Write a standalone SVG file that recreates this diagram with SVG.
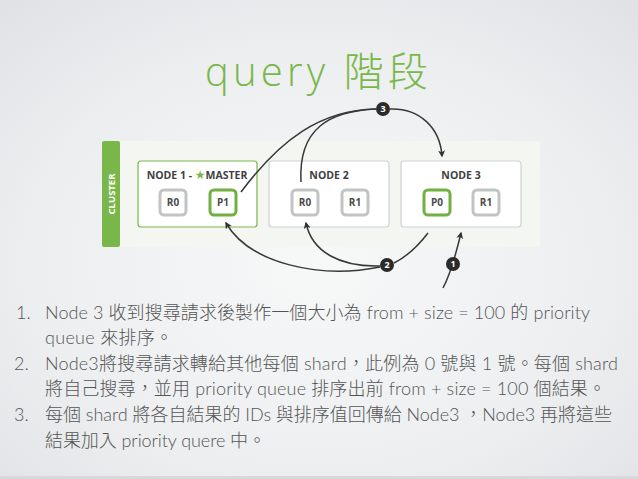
<svg xmlns="http://www.w3.org/2000/svg" width="638" height="479" viewBox="0 0 638 479">
<defs>
<radialGradient id="bg" cx="0.5" cy="0.55" r="0.75">
<stop offset="0" stop-color="#f7f8f8"/>
<stop offset="0.6" stop-color="#eceef0"/>
<stop offset="1" stop-color="#dfe1e4"/>
</radialGradient>
<marker id="ah" viewBox="0 0 10 10" refX="8" refY="5" markerWidth="7" markerHeight="7" orient="auto" markerUnits="userSpaceOnUse">
<path d="M0,0 L10,5 L0,10 L2.5,5 Z" fill="#333"/>
</marker>
<style>
.node{fill:#fff;stroke:#cfd1d1;stroke-width:1.2}
.node.g{stroke:#79b74a}
.shard{fill:#fff;stroke:#c2c4c4;stroke-width:3}
.shard.g{stroke:#72b043}
.nt{font-family:"Open Sans","DejaVu Sans",sans-serif;font-weight:700;font-size:10.5px;fill:#3f3f3f;text-anchor:middle}
.st{font-family:"Open Sans","DejaVu Sans",sans-serif;font-weight:700;font-size:10px;fill:#4a4a4a;text-anchor:middle}
.conn path{fill:none;stroke:#383838;stroke-width:1.5}
.badge circle{fill:#2b2b2b}
.badge text{font-family:"Open Sans","DejaVu Sans",sans-serif;font-weight:700;font-size:9px;fill:#fff;text-anchor:middle}
.body{font-family:"Lato","Noto Sans CJK TC",sans-serif;font-weight:300;font-size:18px;fill:#555}
</style>
</defs>
<rect width="638" height="479" fill="url(#bg)"/>
<rect y="476" width="638" height="3" fill="#d6d8da"/>
<text x="205" y="86" font-family="'Open Sans', 'Noto Sans CJK TC', sans-serif" font-weight="300" font-size="40" fill="#79b74a" textLength="223" lengthAdjust="spacing">query 階段</text>
<g id="cluster">
<rect x="102" y="141" width="438" height="106" rx="3" fill="#f4f6f1"/>
<rect x="102" y="141" width="18" height="106" rx="2" fill="#79b74a"/>
<text x="111" y="194" transform="rotate(-90 111 194)" text-anchor="middle" dy="3.5" font-family="'Open Sans','DejaVu Sans',sans-serif" font-weight="700" font-size="9.5" fill="#fff">CLUSTER</text>
</g>
<g id="node1">
<rect class="node g" x="138" y="161" width="119" height="66" rx="3"/>
<text class="nt" x="197" y="179">NODE 1 - <tspan fill="#79b74a" font-size="12">★</tspan>MASTER</text>
<rect class="shard" x="160" y="190" width="26" height="25" rx="4"/>
<text class="st" x="173" y="206">R0</text>
<rect class="shard g" x="210" y="190" width="26" height="25" rx="4"/>
<text class="st" x="223" y="206">P1</text>
</g>
<g id="node2">
<rect class="node" x="269" y="161" width="120" height="66" rx="3"/>
<text class="nt" x="329" y="179">NODE 2</text>
<rect class="shard" x="292" y="190" width="26" height="25" rx="4"/>
<text class="st" x="305" y="206">R0</text>
<rect class="shard" x="342" y="190" width="26" height="25" rx="4"/>
<text class="st" x="355" y="206">R1</text>
</g>
<g id="node3">
<rect class="node" x="401" y="161" width="120" height="66" rx="3"/>
<text class="nt" x="461" y="179">NODE 3</text>
<rect class="shard g" x="424" y="190" width="26" height="25" rx="4"/>
<text class="st" x="437" y="206">P0</text>
<rect class="shard" x="473" y="190" width="26" height="25" rx="4"/>
<text class="st" x="486" y="206">R1</text>
</g>
<g id="connectors" class="conn">
<path d="M241,192 C280,140 320,110 376,109"/>
<path d="M301,182 C298,128 330,111 376,109"/>
<path d="M390,109 C420,108 440,128 442,156" marker-end="url(#ah)"/>
<path d="M428,233 C415,250 402,259 394,263"/>
<path d="M380,267 C320,279 250,264 226,223" marker-end="url(#ah)"/>
<path d="M380,266 C340,267 312,252 306,223" marker-end="url(#ah)"/>
<path d="M443,288 C449,277 455,258 461,233" marker-end="url(#ah)"/>
</g>
<g id="badge3" class="badge"><circle cx="383" cy="109" r="7"/><text x="383" y="112.2">3</text></g>
<g id="badge2" class="badge"><circle cx="387" cy="265" r="7"/><text x="387" y="268.2">2</text></g>
<g id="badge1" class="badge"><circle cx="453" cy="264" r="7"/><text x="453" y="267.2">1</text></g>
<g id="text" class="body">
<text x="16" y="319">1.</text>
<text x="45" y="319" textLength="545" lengthAdjust="spacing">Node 3 收到搜尋請求後製作一個大小為 from + size = 100 的 priority</text>
<text x="45" y="344" textLength="128" lengthAdjust="spacing">queue 來排序。</text>
<text x="14" y="370">2.</text>
<text x="45" y="370" textLength="573" lengthAdjust="spacing">Node3將搜尋請求轉給其他每個 shard，此例為 0 號與 1 號。每個 shard</text>
<text x="45" y="395" textLength="561" lengthAdjust="spacing">將自己搜尋，並用 priority queue 排序出前 from + size = 100 個結果。</text>
<text x="14" y="421">3.</text>
<text x="45" y="421" textLength="567" lengthAdjust="spacing">每個 shard 將各自結果的 IDs 與排序值回傳給 Node3 ，Node3 再將這些</text>
<text x="45" y="447" textLength="221" lengthAdjust="spacing">結果加入 priority quere 中。</text>
</g>
</svg>
